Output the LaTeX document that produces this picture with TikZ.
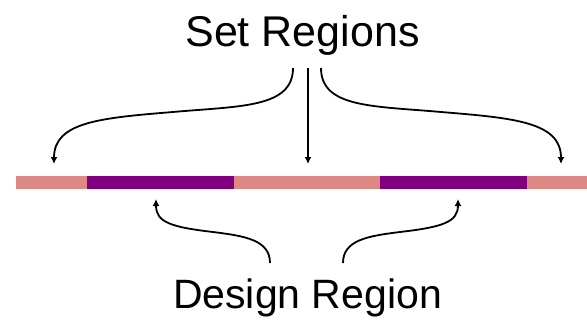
\documentclass[tikz,border=0pt]{standalone}
\usepackage{fontspec}
\setmainfont{Liberation Sans}
\usetikzlibrary{arrows.meta}
\definecolor{setpink}{RGB}{222,137,134}
\definecolor{designpurple}{RGB}{128,0,128}
\tikzset{
  seg/.style={inner sep=0pt, outer sep=0pt, minimum height=13pt, anchor=west, draw=none},
  conn/.style={line width=1.8pt, -{Latex[length=7pt,width=7pt]}},
  label/.style={inner sep=0pt, anchor=base},
}
\begin{document}
\begin{tikzpicture}[x=1pt,y=-1pt]
\useasboundingbox (0,0) rectangle (587,321);
% bar segments
\node[seg, fill=setpink, minimum width=71pt] (s1) at (16,182.5) {};
\node[seg, fill=designpurple, minimum width=147pt] (d1) at (87,182.5) {};
\node[seg, fill=setpink, minimum width=146pt] (s2) at (234,182.5) {};
\node[seg, fill=designpurple, minimum width=147pt] (d2) at (380,182.5) {};
\node[seg, fill=setpink, minimum width=60pt] (s3) at (527,182.5) {};
% labels
\node[label, font=\fontsize{43}{43}\selectfont] (set) at (302.5,47) {Set Regions};
\node[label, font=\fontsize{41}{41}\selectfont] (design) at (307.5,308) {Design Region};
% connector ends
\coordinate (a1) at (293,68);
\coordinate (a2) at (308,68);
\coordinate (a3) at (321,68);
\coordinate (t1) at (54,164);
\coordinate (t2) at (308,164);
\coordinate (t3) at (561,164);
\coordinate (b1) at (270,263);
\coordinate (b2) at (343,263);
\coordinate (u1) at (156,199);
\coordinate (u2) at (458,199);
% set region arrows
\draw[conn] (a1) .. controls (293,108) and (240,106) .. (173,112)
                 .. controls (100,118) and (54,122) .. (t1);
\draw[conn] (a2) -- (t2);
\draw[conn] (a3) .. controls (321,108) and (374,106) .. (441,112)
                 .. controls (514,118) and (561,122) .. (t3);
% design region arrows
\draw[conn] (b1) .. controls (270,240) and (245,236) .. (213,232)
                 .. controls (170,227) and (156,222) .. (u1);
\draw[conn] (b2) .. controls (343,240) and (368,236) .. (400,232)
                 .. controls (443,227) and (458,222) .. (u2);
\end{tikzpicture}
\end{document}
